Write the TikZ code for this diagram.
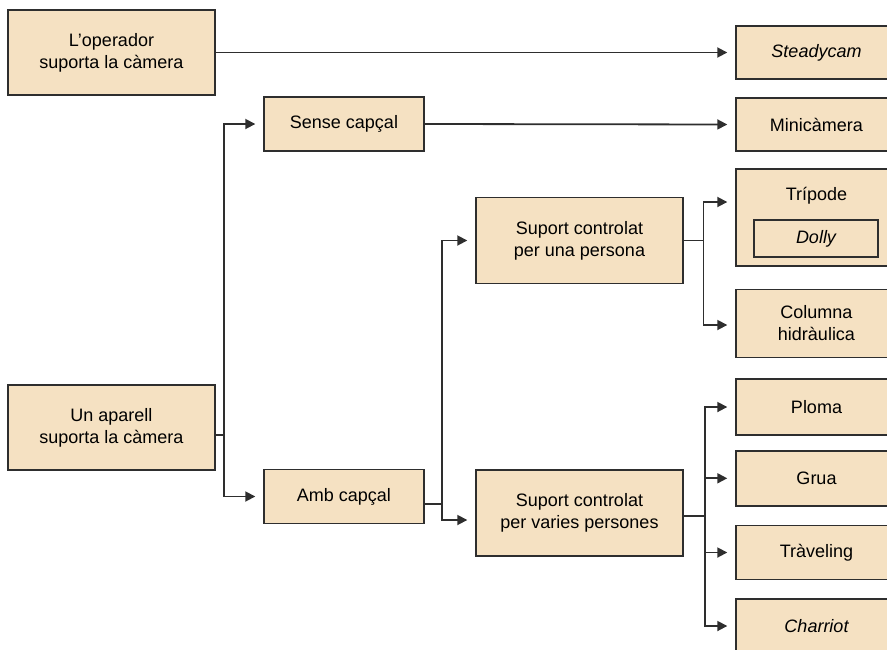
\documentclass[tikz,border=0pt]{standalone}
\usepackage{fontspec}
\setmainfont{Liberation Sans}
\usetikzlibrary{arrows.meta}
\definecolor{boxFill}{HTML}{F5E1C2}
\definecolor{lineGray}{HTML}{2E2E2E}

\begin{document}
\begin{tikzpicture}[
    x=1pt, y=-1pt,
    % Boxes and connectors
    box/.style={draw=lineGray, fill=boxFill, line width=1.4pt, rectangle, inner sep=0pt,
        align=center, font=\fontsize{18}{22}\selectfont},
    leftBox/.style={box, minimum width=207pt, minimum height=85pt},
    midBox/.style={box, minimum width=160pt, minimum height=54pt},
    bigBox/.style={box, minimum width=207pt, minimum height=86pt},
    endBox/.style={box, minimum width=161pt, minimum height=54pt},
    link/.style={draw=lineGray, line width=1.8pt},
    arrow/.style={link, -{Triangle[length=10pt,width=10pt]}, shorten >=8pt}
]
    \useasboundingbox (0,0) rectangle (887,649);

    % --- LEFT COLUMN ---
    \node[leftBox] (operador) at (111.5,52.5) {L’operador\\suporta la càmera};
    \node[leftBox] (unAparell) at (111.5,427.5) {Un aparell\\suporta la càmera};

    % --- SECOND COLUMN ---
    \node[midBox] (senseCapcal) at (344,124) {Sense capçal};
    \node[midBox] (ambCapcal) at (344,496.5) {Amb capçal};

    % --- THIRD COLUMN ---
    \node[bigBox] (unaPersona) at (579.5,240.5) {Suport controlat\\per una persona};
    \node[bigBox] (variesPersones) at (579.5,513) {Suport controlat\\per varies persones};

    % --- RIGHT COLUMN (runs past the page edge) ---
    \node[endBox, minimum height=53pt] (steadycam) at (816.5,52.5) {\itshape Steadycam};
    \node[endBox, minimum height=53pt] (minicamera) at (816.5,124.5) {Minicàmera};
    \node[endBox, minimum height=97pt] (tripode) at (816.5,217.5) {};
    \node[font=\fontsize{18}{22}\selectfont] (tripodeLabel) at (816.5,196) {Trípode};
    \node[box, line width=1.1pt, minimum width=124pt, minimum height=37pt] (dolly) at (816,238.5) {\itshape Dolly};
    \node[endBox, minimum height=68pt] (columna) at (816.5,323.3) {Columna\\hidràulica};
    \node[endBox, minimum height=56pt] (ploma) at (816.5,407) {Ploma};
    \node[endBox, minimum height=55pt] (grua) at (816.5,478.3) {Grua};
    \node[endBox] (traveling) at (816.5,552.5) {Tràveling};
    \node[endBox] (charriot) at (816.5,626) {\itshape Charriot};

    % --- FORK POINTS ---
    \coordinate (forkA) at (224,435);
    \coordinate (forkB) at (442,504);
    \coordinate (forkBlow) at (442,520);
    \coordinate (forkC) at (703.5,240.5);
    \coordinate (forkCtop) at (703.5,202);
    \coordinate (forkCbot) at (703.5,325);
    \coordinate (forkD) at (705,516);

    % --- CONNECTORS ---
    \draw[arrow] (operador.east) -- (steadycam.west);
    \draw[arrow] (senseCapcal.east) -- (minicamera.west);

    \draw[link] (forkA -| unAparell.east) -- (forkA);
    \draw[arrow] (forkA) -- (forkA |- senseCapcal) -- (senseCapcal.west);
    \draw[arrow] (forkA) -- (forkA |- ambCapcal) -- (ambCapcal.west);

    \draw[link] (forkB -| ambCapcal.east) -- (forkB);
    \draw[arrow] (forkB) -- (forkB |- unaPersona) -- (unaPersona.west);
    \draw[arrow] (forkB) -- (forkBlow) -- (forkBlow -| variesPersones.west);

    \draw[link] (unaPersona.east) -- (forkC);
    \draw[arrow] (forkC) -- (forkCtop) -- (forkCtop -| tripode.west);
    \draw[arrow] (forkC) -- (forkCbot) -- (forkCbot -| columna.west);

    \draw[link] (forkD -| variesPersones.east) -- (forkD);
    \foreach \target in {ploma, grua, traveling, charriot}
        \draw[arrow] (forkD) -- (forkD |- \target) -- (\target.west);

\end{tikzpicture}
\end{document}
